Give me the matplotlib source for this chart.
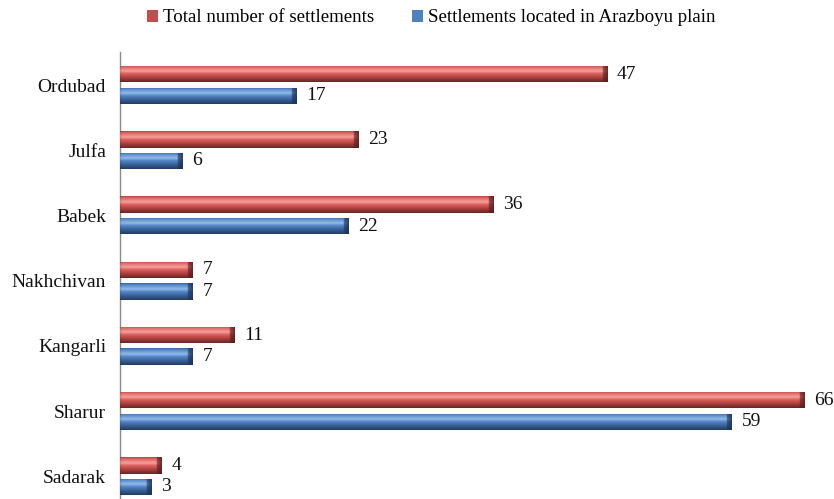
import numpy as np
import matplotlib
matplotlib.use("Agg")
import matplotlib.pyplot as plt
from matplotlib.colors import to_rgb

plt.rcParams["font.family"] = ["Liberation Serif", "DejaVu Serif"]

# Data
districts = ["Ordubad", "Julfa", "Babek", "Nakhchivan", "Kangarli", "Sharur", "Sadarak"]
total_settlements = [47, 23, 36, 7, 11, 66, 4]
arazboyu_settlements = [17, 6, 22, 7, 7, 59, 3]
series_names = ["Total number of settlements", "Settlements located in Arazboyu plain"]

# Vertical shading profiles (position, colour) for the bevelled bars
RED_PROFILE = [(0.00, "#b44846"), (0.12, "#e06a67"), (0.35, "#f4a19e"),
               (0.50, "#dd5f5c"), (0.75, "#a8403e"), (1.00, "#6a2523")]
BLUE_PROFILE = [(0.00, "#3b69a2"), (0.12, "#5a8ccd"), (0.35, "#93bbea"),
                (0.50, "#5587c9"), (0.75, "#385f93"), (1.00, "#223d66")]
RED_END = "#5a1e1c"
BLUE_END = "#1c3358"

FS = 14
LEGEND_FS = 13.6

fig = plt.figure(figsize=(8.34, 4.99), dpi=100)
fig.patch.set_facecolor("white")
ax = fig.add_axes([120 / 834, -9.8 / 499, 714 / 834, 456.4 / 499])

y = np.arange(len(districts))
bar_h = 0.253
offset = 0.165

bars_total = ax.barh(y - offset, total_settlements, height=bar_h,
                     color="#c0504d", edgecolor="none", zorder=2)
bars_araz = ax.barh(y + offset, arazboyu_settlements, height=bar_h,
                    color="#4f81bd", edgecolor="none", zorder=2)


def profile_colors(profile, n):
    pos = np.array([p for p, _ in profile])
    cols = np.array([to_rgb(c) for _, c in profile])
    t = np.linspace(0, 1, n)
    return np.stack([np.interp(t, pos, cols[:, k]) for k in range(3)], axis=1)


def shade_bars(container, profile, end_color, bevel=0.5):
    end_rgb = np.array(to_rgb(end_color))
    for patch in container.patches:
        x0, y0 = patch.get_x(), patch.get_y()
        w, h = patch.get_width(), patch.get_height()
        nrows = 40
        ncols = max(int(w * 20), 8)
        base = profile_colors(profile, nrows)  # (nrows, 3)
        img = np.repeat(base[:, None, :], ncols, axis=1)
        xs = (np.arange(ncols) + 0.5) / ncols * w
        # darker bevel at the right end of each bar
        bw = min(bevel, w * 0.3)
        f = np.clip((xs - (w - bw)) / bw, 0, 1)
        f = np.where(f > 0, 0.55 + 0.35 * f, 0)
        img = img * (1 - f[None, :, None]) + end_rgb[None, None, :] * f[None, :, None]
        # slightly softer left end
        lb = min(0.2, w * 0.1)
        g = np.clip(1 - xs / lb, 0, 1) * 0.25
        img = img * (1 - g[None, :, None]) + end_rgb[None, None, :] * g[None, :, None]
        im = ax.imshow(img, extent=(x0, x0 + w, y0 + h, y0), origin="upper",
                       aspect="auto", interpolation="bilinear", zorder=3)
        im.set_clip_path(patch)


shade_bars(bars_total, RED_PROFILE, RED_END)
shade_bars(bars_araz, BLUE_PROFILE, BLUE_END)

ax.bar_label(bars_total, padding=7, fontsize=FS, color="#111111")
ax.bar_label(bars_araz, padding=7, fontsize=FS, color="#111111")

ax.set_yticks(y)
ax.set_yticklabels(districts, fontsize=FS, color="#111111")
ax.tick_params(axis="y", length=0, pad=10)
ax.set_xticks([])
ax.set_xlim(0, 714 / 10.37)
ax.set_ylim(len(districts) - 0.5, -0.5)

for side in ["top", "right", "bottom"]:
    ax.spines[side].set_visible(False)
ax.spines["left"].set_color("#8c8c8c")
ax.spines["left"].set_linewidth(1.0)

fig.legend([bars_total, bars_araz], series_names, loc="center left",
           bbox_to_anchor=(147 / 834, 1 - 18 / 499), ncol=2, frameon=False,
           fontsize=LEGEND_FS, handlelength=0.6, handleheight=0.6,
           handletextpad=0.25, columnspacing=2.0, borderpad=0, borderaxespad=0)

fig.savefig("out.png", dpi=100, facecolor="white")
